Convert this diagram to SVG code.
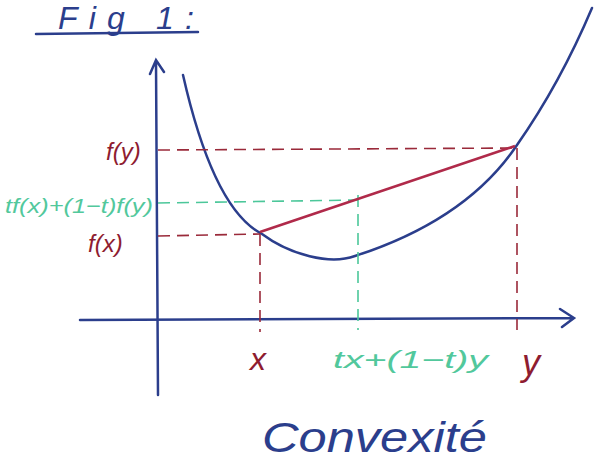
<svg xmlns="http://www.w3.org/2000/svg" width="601" height="468" viewBox="0 0 601 468">
<style>
.blue{stroke:#2b3e8c;fill:none;stroke-width:2.5;stroke-linecap:round}
.reddash{stroke:#9a2a3a;fill:none;stroke-width:1.6;stroke-dasharray:12 7}
.greendash{stroke:#4cc79a;fill:none;stroke-width:1.6;stroke-dasharray:12 7}
.red{fill:#8e1c30;font-family:"Liberation Sans",sans-serif;font-style:italic}
.green{fill:#52c89c;font-family:"Liberation Sans",sans-serif;font-style:italic}
.bluet{fill:#2b3e8c;font-family:"Liberation Sans",sans-serif;font-style:italic}
</style>
<rect width="601" height="468" fill="#ffffff"/>
<g id="title">
<text class="bluet" x="58" y="29" font-size="32" textLength="136" lengthAdjust="spacing">Fig 1:</text>
<line class="blue" x1="36" y1="34" x2="198" y2="32"/>
</g>
<g id="axes">
<path class="blue" d="M158 395 L156 62 M150 74 L156 60 L164 72"/>
<path class="blue" d="M80 320 L572 318 M560 309 L574 318 L562 327"/>
</g>
<g id="curve">
<path class="blue" d="M183 75 C200 150 225 215 262 234 C290 255 330 265 355 256 C420 235 480 200 517 145 C545 105 570 60 592 8"/>
</g>
<g id="connectors">
<line class="reddash" x1="158" y1="150" x2="515" y2="148"/>
<line class="reddash" x1="517" y1="148" x2="517" y2="330"/>
<line class="reddash" x1="158" y1="236" x2="260" y2="234"/>
<line class="reddash" x1="260" y1="234" x2="260" y2="332"/>
<line class="greendash" x1="158" y1="203" x2="358" y2="200"/>
<line class="greendash" x1="358" y1="195" x2="358" y2="330"/>
<line x1="260" y1="232" x2="515" y2="146" stroke="#b02a4a" stroke-width="2.6"/>
</g>
<g id="label-fy"><text class="red" x="106" y="160" font-size="24">f(y)</text></g>
<g id="label-mix"><text class="green" x="5" y="213" font-size="21" textLength="148" lengthAdjust="spacingAndGlyphs">tf(x)+(1−t)f(y)</text></g>
<g id="label-fx"><text class="red" x="88" y="252" font-size="24">f(x)</text></g>
<g id="label-x"><text class="red" x="250" y="370" font-size="32">x</text></g>
<g id="label-txy"><text class="green" x="333" y="368" font-size="24" textLength="155" lengthAdjust="spacingAndGlyphs">tx+(1−t)y</text></g>
<g id="label-y"><text class="red" x="522" y="375" font-size="36">y</text></g>
<g id="label-convexite"><text class="bluet" x="262" y="452" font-size="42" textLength="225" lengthAdjust="spacingAndGlyphs">Convexité</text></g>
</svg>
